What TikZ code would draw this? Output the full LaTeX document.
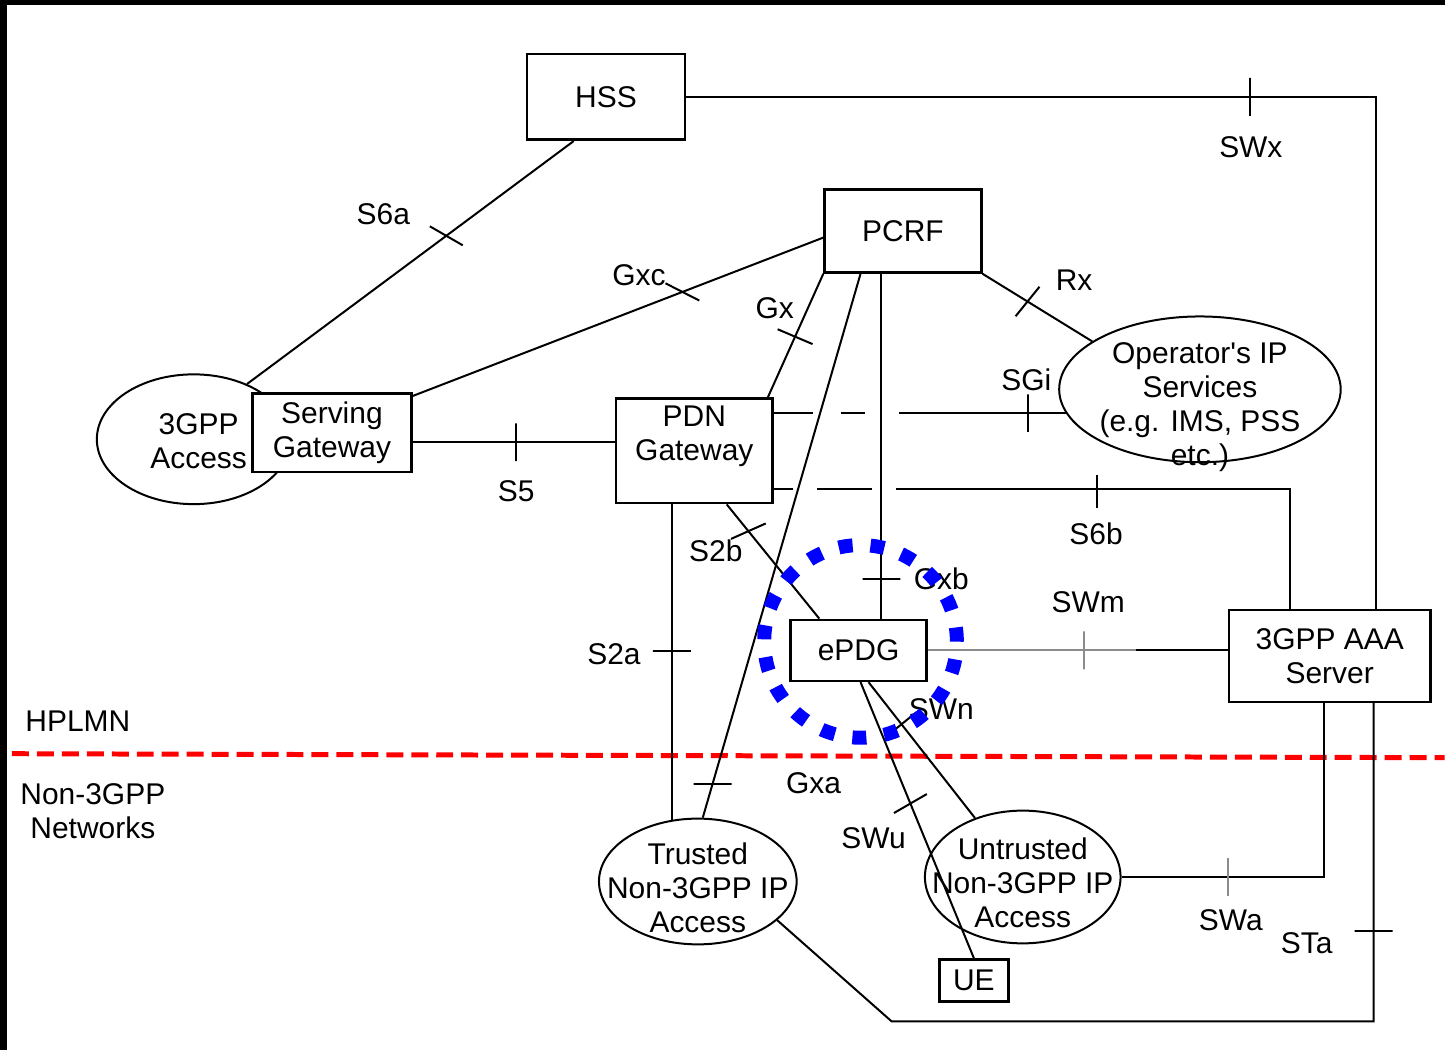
\documentclass[tikz,border=0pt]{standalone}
\usepackage{fontspec}
\setmainfont{Liberation Sans}
\usetikzlibrary{shapes.geometric}

\begin{document}
\begin{tikzpicture}[x=1pt, y=-1pt,
		every node/.style={font=\fontsize{30}{34}\selectfont},
		caja/.style={draw, line width=2.6pt, fill=white, inner sep=0pt, align=center},
		nube/.style={draw, ellipse, line width=2pt, inner sep=0pt},
		enlace/.style={line width=2pt},
		corte/.style={draw, line width=2pt, inner sep=0pt, minimum width=0pt, minimum height=38pt},
		etiq/.style={inner sep=0pt, align=center}]
			% Fondo y marco
			\fill[black] (0,0) rectangle (1447,1052);
			\fill[white] (7,5) rectangle (1447,1052);
			
			% Frontera HPLMN / Non-3GPP
			\draw[red, line width=5pt, dash pattern=on 17pt off 8pt] (12,755) -- (1447,759);
			\node[etiq] (hplmn) at (78,722) {HPLMN};
			\node[etiq] (non3gpp) at (93,813) {Non-3GPP\\Networks};
			
			% Redes de acceso
			\node[nube, minimum width=194pt, minimum height=130pt,
				label={[align=center, xshift=5pt, yshift=-1.5pt]center:{3GPP\\Access}}] (acc3) at (194,440) {};
			\node[nube, minimum width=282pt, minimum height=146pt,
				label={[align=center, yshift=-17.5pt]center:{Operator\textquotesingle s IP\\Services\\(e.g. IMS, PSS\\etc.)}}] (ops) at (1202,390) {};
			\node[nube, minimum width=198pt, minimum height=126pt,
				label={[align=center, yshift=-6.5pt]center:{Trusted\\Non-3GPP IP\\Access}}] (trus) at (699,883) {};
			\node[nube, minimum width=196pt, minimum height=133pt,
				label={[align=center, yshift=-5.5pt]center:{Untrusted\\Non-3GPP IP\\Access}}] (untr) at (1024.5,878.5) {};
			
			% Entidades
			\node[caja, minimum width=158pt, minimum height=86pt] (hss) at (607,97) {HSS};
			\node[caja, minimum width=157pt, minimum height=83pt] (pcrf) at (904.5,231.5) {PCRF};
			\node[caja, minimum width=159pt, minimum height=79pt] (sgw) at (332.5,433.5) {Serving\\Gateway};
			\node[caja, minimum width=157pt, minimum height=105pt,
				label={[align=center, yshift=14pt]center:{PDN\\Gateway}}] (pdn) at (695.5,451.5) {};
			\node[caja, minimum width=136pt, minimum height=61pt] (epdg) at (860,651.5) {ePDG};
			\node[caja, minimum width=202pt, minimum height=92pt] (aaa) at (1332,657) {3GPP AAA\\Server};
			\node[caja, minimum width=69pt, minimum height=42pt] (ue) at (975.5,982) {UE};
			
			% Interfaces hacia HSS y PCRF
			\draw[enlace] (acc3.46) -- node[corte, pos=.61, rotate=60] {} ([xshift=48pt]hss.south west);
			\draw[enlace] (hss.east) -| node[corte, pos=.409] {} ([xshift=46pt]aaa.north);
			\draw[enlace] ([yshift=-4pt]sgw.north east) -- node[corte, pos=.657, rotate=63] {} ([yshift=-6.5pt]pcrf.west);
			\draw[enlace] ([xshift=-6pt]pdn.north east) -- node[corte, pos=.49, rotate=67] {} (pcrf.south west);
			\draw[enlace] (pcrf.south east) -- node[corte, pos=.41, rotate=-39] {} (ops.156);
			\draw[enlace] ([xshift=5pt]trus.north) -- node[corte, pos=.062, rotate=90] {} ([xshift=-42.5pt]pcrf.south);
			\draw[enlace] ([xshift=23pt]epdg.north) -- node[corte, pos=.115, rotate=90] {} ([xshift=23pt]epdg.north |- pcrf.south);
			
			% Interfaces del PDN Gateway
			\draw[enlace] ([yshift=-9.5pt]sgw.east) -- node[corte, pos=.512] {} ([yshift=-9.5pt]sgw.east -| pdn.west);
			\draw[enlace, dash pattern=on 39pt off 28pt on 24pt off 34pt on 400pt]
				([yshift=37.5pt]pdn.east) -- node[corte, pos=.87] {} ([yshift=37.5pt]pdn.east -| ops.190);
			\draw[enlace, dash pattern=on 19pt off 24pt on 55pt off 24pt on 2000pt]
				([yshift=-38.5pt]pdn.east) -| node[corte, pos=.3127] {} ([xshift=-40pt]aaa.north);
			\draw[enlace] ([xshift=-22.5pt]pdn.south) -- node[corte, pos=.465, rotate=90] {} ([xshift=-22.5pt]pdn.south |- trus.113);
			\draw[enlace] ([xshift=32.5pt]pdn.south) -- node[corte, pos=.234, rotate=-66] {} ([xshift=30pt]epdg.north west);
			
			% Interfaces del ePDG y del servidor AAA
			\path (epdg.east) -- coordinate[pos=.693] (swm) (epdg.east -| aaa.west);
			\draw[enlace, black!45] (epdg.east) -- node[corte, pos=.752] {} (swm);
			\draw[enlace] (swm) -- (epdg.east -| aaa.west);
			\draw[enlace] ([xshift=10pt]epdg.south) -- node[corte, pos=.31, rotate=-51] {} (untr.129);
			\draw[enlace] ([xshift=2pt]epdg.south) -- node[corte, pos=.44, rotate=-60] {} (ue.north);
			\draw[enlace] (untr.east) -| node[corte, pos=.263, black!45] {} ([xshift=-6pt]aaa.south);
			\coordinate (sta1) at (893,1023);
			\draw[enlace] (trus.-26) -- (sta1) -| node[corte, pos=.642, rotate=90] {} ([xshift=44pt]aaa.south);
			
			% Nombres de las interfaces
			\node[etiq] (ls6a) at (384,215) {S6a};
			\node[etiq] (lgxc) at (640,276) {Gxc};
			\node[etiq] (lgx) at (776,309) {Gx};
			\node[etiq] (lrx) at (1076,281) {Rx};
			\node[etiq] (lsgi) at (1028,380) {SGi};
			\node[etiq] (lswx) at (1253,147) {SWx};
			\node[etiq] (ls5) at (517,492) {S5};
			\node[etiq] (ls6b) at (1098,535) {S6b};
			\node[etiq] (ls2b) at (717,552) {S2b};
			\node[etiq] (ls2a) at (615,655) {S2a};
			\node[etiq] (lgxb) at (943,580) {Gxb};
			\node[etiq] (lswm) at (1090,603) {SWm};
			\node[etiq] (lswn) at (943,710) {SWn};
			\node[etiq] (lgxa) at (815,785) {Gxa};
			\node[etiq] (lswu) at (875,840) {SWu};
			\node[etiq] (lswa) at (1233,922) {SWa};
			\node[etiq] (lsta) at (1309,945) {STa};
			
			% Resaltado del ePDG
			\node[circle, draw=blue, line width=14pt, dash pattern=on 14pt off 17.9pt,
				minimum size=193pt, inner sep=0pt] (hilite) at (862,642.5) {};
\end{tikzpicture}
\end{document}
